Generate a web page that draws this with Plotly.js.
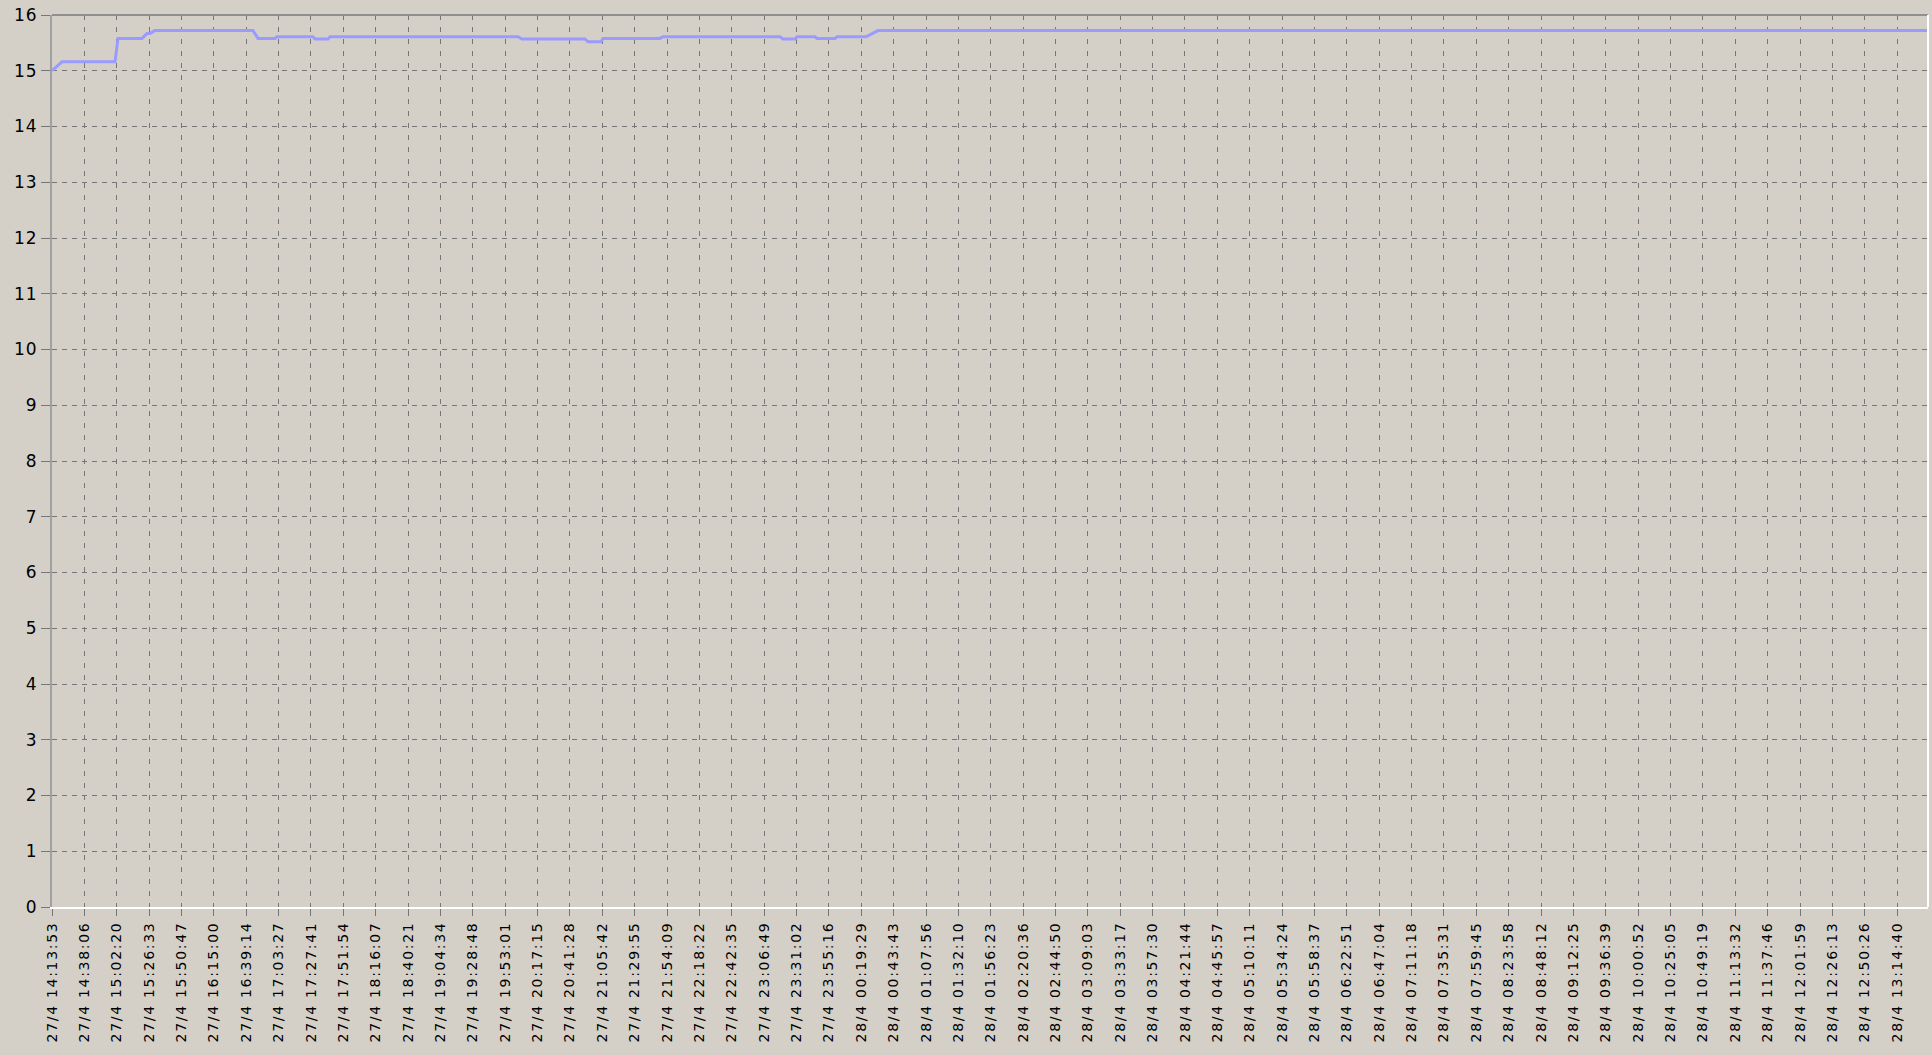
<!DOCTYPE html>
<html>
<head>
<meta charset="utf-8">
<script src="https://cdn.plot.ly/plotly-3.0.1.min.js"></script>
<style>
  html, body { margin: 0; padding: 0; background: #d4d0c8; }
  #chart { width: 1932px; height: 1055px; }
  .xtick text { letter-spacing: 1.7px; }
  .ytick text { letter-spacing: 1px; }
</style>
</head>
<body>
<div id="chart"></div>
<script>
// ---- data ----
const times = [
  "27/4 14:13:53", "27/4 14:21:22", "27/4 15:01:02", "27/4 15:03:16",
  "27/4 15:21:14", "27/4 15:24:59", "27/4 15:27:13", "27/4 15:30:58",
  "27/4 16:44:18", "27/4 16:48:02", "27/4 17:00:46", "27/4 17:02:16",
  "27/4 17:29:12", "27/4 17:30:42", "27/4 17:40:25", "27/4 17:41:55",
  "27/4 20:02:36", "27/4 20:05:36", "27/4 20:52:45", "27/4 20:54:59",
  "27/4 21:04:43", "27/4 21:06:13", "27/4 21:48:52", "27/4 21:51:07",
  "27/4 23:18:40", "27/4 23:20:55", "27/4 23:29:54", "27/4 23:31:24",
  "27/4 23:44:52", "27/4 23:46:22", "27/4 23:59:50", "28/4 00:01:20",
  "28/4 00:23:02", "28/4 00:27:31", "28/4 00:32:00", "28/4 13:37:45"
];
const values = [
  15.00, 15.16, 15.16, 15.58,
  15.58, 15.67, 15.67, 15.72,
  15.72, 15.58, 15.58, 15.61,
  15.61, 15.57, 15.57, 15.61,
  15.61, 15.57, 15.57, 15.52,
  15.52, 15.58, 15.58, 15.61,
  15.61, 15.57, 15.57, 15.61,
  15.61, 15.58, 15.58, 15.61,
  15.61, 15.67, 15.72, 15.72
];
const tickLabels = [
  "27/4 14:13:53", "27/4 14:38:06", "27/4 15:02:20", "27/4 15:26:33", "27/4 15:50:47",
  "27/4 16:15:00", "27/4 16:39:14", "27/4 17:03:27", "27/4 17:27:41", "27/4 17:51:54",
  "27/4 18:16:07", "27/4 18:40:21", "27/4 19:04:34", "27/4 19:28:48", "27/4 19:53:01",
  "27/4 20:17:15", "27/4 20:41:28", "27/4 21:05:42", "27/4 21:29:55", "27/4 21:54:09",
  "27/4 22:18:22", "27/4 22:42:35", "27/4 23:06:49", "27/4 23:31:02", "27/4 23:55:16",
  "28/4 00:19:29", "28/4 00:43:43", "28/4 01:07:56", "28/4 01:32:10", "28/4 01:56:23",
  "28/4 02:20:36", "28/4 02:44:50", "28/4 03:09:03", "28/4 03:33:17", "28/4 03:57:30",
  "28/4 04:21:44", "28/4 04:45:57", "28/4 05:10:11", "28/4 05:34:24", "28/4 05:58:37",
  "28/4 06:22:51", "28/4 06:47:04", "28/4 07:11:18", "28/4 07:35:31", "28/4 07:59:45",
  "28/4 08:23:58", "28/4 08:48:12", "28/4 09:12:25", "28/4 09:36:39", "28/4 10:00:52",
  "28/4 10:25:05", "28/4 10:49:19", "28/4 11:13:32", "28/4 11:37:46", "28/4 12:01:59",
  "28/4 12:26:13", "28/4 12:50:26", "28/4 13:14:40"
];
const yTicks = [0,1,2,3,4,5,6,7,8,9,10,11,12,13,14,15,16];
const YEAR = 2009;

// "27/4 14:13:53" -> "2009-04-27 14:13:53"
function toDate(s) {
  const [dm, t] = s.split(" ");
  const [d, m] = dm.split("/");
  return YEAR + "-" + String(m).padStart(2, "0") + "-" + String(d).padStart(2, "0") + " " + t;
}

const xs = times.map(toDate);
const tickVals = tickLabels.map(toDate);

const gridColor = "#767676";
const fam = "DejaVu Sans, Arial, sans-serif";

const trace = {
  x: xs,
  y: values,
  type: "scatter",
  mode: "lines",
  line: { color: "#9a9aff", width: 3 },
  hoverinfo: "skip"
};

const layout = {
  width: 1932,
  height: 1055,
  margin: { l: 52, r: 4, t: 15, b: 148, pad: 0 },
  paper_bgcolor: "#d4d0c8",
  plot_bgcolor: "#d4d0c8",
  showlegend: false,
  font: { family: fam, size: 14, color: "#000" },
  xaxis: {
    type: "date",
    range: [xs[0], xs[xs.length - 1]],
    tickmode: "array",
    tickvals: tickVals,
    ticktext: tickLabels,
    tickangle: -90,
    tickfont: { family: fam, size: 14, color: "#000" },
    ticks: "outside",
    ticklen: 7,
    tickwidth: 1,
    tickcolor: gridColor,
    showgrid: true,
    gridcolor: gridColor,
    gridwidth: 1,
    griddash: "5px,7px",
    showline: true,
    linecolor: "#ffffff",
    linewidth: 2,
    zeroline: false,
    automargin: false,
    fixedrange: true
  },
  yaxis: {
    range: [0, 16],
    tickmode: "array",
    tickvals: yTicks,
    ticktext: yTicks.map(String),
    tickfont: { family: fam, size: 17, color: "#000" },
    ticks: "outside",
    ticklen: 9,
    tickwidth: 1,
    tickcolor: gridColor,
    showgrid: true,
    gridcolor: gridColor,
    gridwidth: 1,
    griddash: "5px,5px",
    showline: true,
    linecolor: "#a0a0a0",
    linewidth: 2,
    zeroline: false,
    automargin: false,
    fixedrange: true
  },
  shapes: [
    { type: "line", xref: "paper", yref: "paper", x0: 0, x1: 1, y0: 1, y1: 1,
      line: { color: "#909090", width: 2 } },
    { type: "line", xref: "paper", yref: "paper", x0: 1, x1: 1, y0: 0, y1: 1,
      line: { color: "#ffffff", width: 2 } }
  ]
};

Plotly.newPlot("chart", [trace], layout, { displayModeBar: false, staticPlot: true });
</script>
</body>
</html>
